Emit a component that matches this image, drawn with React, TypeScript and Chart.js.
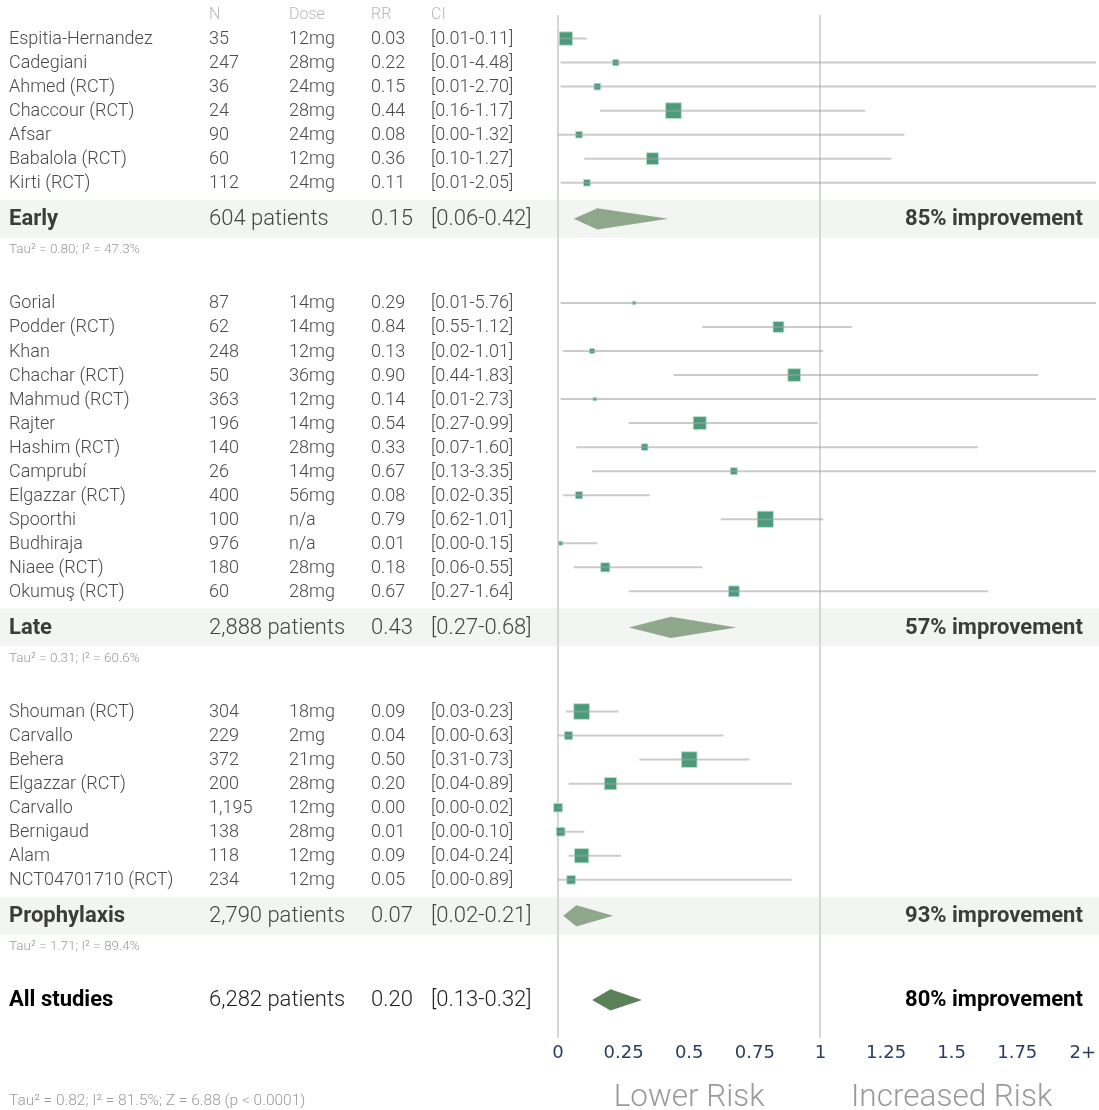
import React, { useEffect, useRef } from 'react';
import { Chart, registerables } from 'chart.js';

Chart.register(...registerables);

// ---------- data ----------
const earlyNames = ['Espitia-Hernandez', 'Cadegiani', 'Ahmed (RCT)', 'Chaccour (RCT)', 'Afsar', 'Babalola (RCT)', 'Kirti (RCT)'];
const earlyN = [35, 247, 36, 24, 90, 60, 112];
const earlyDose = ['12mg', '28mg', '24mg', '28mg', '24mg', '12mg', '24mg'];
const earlyRR = [0.03, 0.22, 0.15, 0.44, 0.08, 0.36, 0.11];
const earlyLo = [0.01, 0.01, 0.01, 0.16, 0.0, 0.1, 0.01];
const earlyHi = [0.11, 4.48, 2.7, 1.17, 1.32, 1.27, 2.05];
const earlyWeight = [17.5, 3.9, 4.4, 24.4, 4.4, 14, 4.4];

const lateNames = ['Gorial', 'Podder (RCT)', 'Khan', 'Chachar (RCT)', 'Mahmud (RCT)', 'Rajter', 'Hashim (RCT)', 'Camprubí', 'Elgazzar (RCT)', 'Spoorthi', 'Budhiraja', 'Niaee (RCT)', 'Okumuş (RCT)'];
const lateN = [87, 62, 248, 50, 363, 196, 140, 26, 400, 100, 976, 180, 60];
const lateDose = ['14mg', '14mg', '12mg', '36mg', '12mg', '14mg', '28mg', '14mg', '56mg', 'n/a', 'n/a', '28mg', '28mg'];
const lateRR = [0.29, 0.84, 0.13, 0.9, 0.14, 0.54, 0.33, 0.67, 0.08, 0.79, 0.01, 0.18, 0.67];
const lateLo = [0.01, 0.55, 0.02, 0.44, 0.01, 0.27, 0.07, 0.13, 0.02, 0.62, 0.0, 0.06, 0.27];
const lateHi = [5.76, 1.12, 1.01, 1.83, 2.73, 0.99, 1.6, 3.35, 0.35, 1.01, 0.15, 0.55, 1.64];
const lateWeight = [1.2, 11.6, 2.7, 15.8, 1.2, 16.5, 4.4, 4.8, 5.3, 25.6, 1.7, 8.3, 11.6];

const prophNames = ['Shouman (RCT)', 'Carvallo', 'Behera', 'Elgazzar (RCT)', 'Carvallo', 'Bernigaud', 'Alam', 'NCT04701710 (RCT)'];
const prophN = [304, 229, 372, 200, 1195, 138, 118, 234];
const prophDose = ['18mg', '2mg', '21mg', '28mg', '12mg', '28mg', '12mg', '12mg'];
const prophRR = [0.09, 0.04, 0.5, 0.2, 0.0, 0.01, 0.09, 0.05];
const prophLo = [0.03, 0.0, 0.31, 0.04, 0.0, 0.0, 0.04, 0.0];
const prophHi = [0.23, 0.63, 0.73, 0.89, 0.02, 0.1, 0.24, 0.89];
const prophWeight = [24, 6.7, 24, 14.8, 7.4, 7.4, 20, 7.4];

const summaryLabels = ['Early', 'Late', 'Prophylaxis', 'All studies'];
const summaryPatients = [604, 2888, 2790, 6282];
const summaryRR = [0.15, 0.43, 0.07, 0.2];
const summaryLo = [0.06, 0.27, 0.02, 0.13];
const summaryHi = [0.42, 0.68, 0.21, 0.32];
const summaryTau = ['Tau² = 0.80; I² = 47.3%', 'Tau² = 0.31; I² = 60.6%', 'Tau² = 1.71; I² = 89.4%'];
const overallStats = 'Tau² = 0.82; I² = 81.5%; Z = 6.88 (p < 0.0001)';

const headerLabels = ['N', 'Dose', 'RR', 'CI'];
const xTicks = [0, 0.25, 0.5, 0.75, 1, 1.25, 1.5, 1.75, 2];
const tickLabels = ['0', '0.25', '0.5', '0.75', '1', '1.25', '1.5', '1.75', '2+'];
const riskLabels = ['Lower Risk', 'Increased Risk'];

// ---------- build rows ----------
type Study = { name: string; n: number; dose: string; rr: number; lo: number; hi: number; w: number; row: number };
type Summary = { label: string; patients: number; rr: number; lo: number; hi: number; row: number; tau?: string; tauRow?: number; overall?: boolean };

const groupsSrc = [
  { names: earlyNames, n: earlyN, dose: earlyDose, rr: earlyRR, lo: earlyLo, hi: earlyHi, w: earlyWeight },
  { names: lateNames, n: lateN, dose: lateDose, rr: lateRR, lo: lateLo, hi: lateHi, w: lateWeight },
  { names: prophNames, n: prophN, dose: prophDose, rr: prophRR, lo: prophLo, hi: prophHi, w: prophWeight },
];

const studies: Study[] = [];
const summaries: Summary[] = [];
let cursor = 0;
groupsSrc.forEach((g, gi) => {
  g.names.forEach((name, i) => {
    studies.push({ name, n: g.n[i], dose: g.dose[i], rr: g.rr[i], lo: g.lo[i], hi: g.hi[i], w: g.w[i], row: cursor + i });
  });
  const sRow = cursor + g.names.length - 1 + 1.5;
  summaries.push({
    label: summaryLabels[gi], patients: summaryPatients[gi], rr: summaryRR[gi], lo: summaryLo[gi], hi: summaryHi[gi],
    row: sRow, tau: summaryTau[gi], tauRow: sRow + 1.3,
  });
  cursor = sRow + 3.5;
});
summaries.push({ label: summaryLabels[3], patients: summaryPatients[3], rr: summaryRR[3], lo: summaryLo[3], hi: summaryHi[3], row: cursor, overall: true });

const fmt = (v: number) => v.toFixed(2);
const fmtN = (v: number) => v.toLocaleString('en-US');

const COLX = { name: 9, n: 209, dose: 289, rr: 371, ci: 431 };

const forestPlugin = {
  id: 'forestText',
  beforeDraw(chart: any) {
    const ctx = chart.ctx;
    const y = chart.scales.y;
    ctx.save();
    ctx.fillStyle = '#f3f5f2';
    summaries.forEach((s) => {
      if (s.overall) return;
      const top = y.getPixelForValue(s.row - 0.79);
      const bot = y.getPixelForValue(s.row + 0.79);
      ctx.fillRect(0, top, chart.width, bot - top);
    });
    ctx.restore();
  },
  afterDraw(chart: any) {
    const ctx = chart.ctx;
    const y = chart.scales.y;
    const x = chart.scales.x;
    ctx.save();
    ctx.textBaseline = 'middle';
    ctx.textAlign = 'left';
    // header
    ctx.font = '300 16px Roboto';
    ctx.fillStyle = '#b8b8b8';
    const hy = y.getPixelForValue(-1);
    ctx.fillText(headerLabels[0], COLX.n, hy);
    ctx.fillText(headerLabels[1], COLX.dose, hy);
    ctx.fillText(headerLabels[2], COLX.rr, hy);
    ctx.fillText(headerLabels[3], COLX.ci, hy);
    // studies
    ctx.font = '300 18px Roboto';
    ctx.fillStyle = '#4a4a4a';
    studies.forEach((s) => {
      const py = y.getPixelForValue(s.row) + 1;
      ctx.fillText(s.name, COLX.name, py);
      ctx.fillText(fmtN(s.n), COLX.n, py);
      ctx.fillText(s.dose, COLX.dose, py);
      ctx.fillText(fmt(s.rr), COLX.rr, py);
      ctx.fillText(`[${fmt(s.lo)}-${fmt(s.hi)}]`, COLX.ci, py);
    });
    // summaries
    summaries.forEach((s) => {
      const py = y.getPixelForValue(s.row) + 1;
      const col = s.overall ? '#000000' : '#3c3c3c';
      ctx.textAlign = 'left';
      ctx.font = 'bold 22px Roboto';
      ctx.fillStyle = col;
      ctx.fillText(s.label, COLX.name, py);
      ctx.font = '300 22px Roboto';
      ctx.fillStyle = s.overall ? '#222' : '#444';
      ctx.fillText(`${fmtN(s.patients)} patients`, COLX.n, py);
      ctx.fillText(fmt(s.rr), COLX.rr, py);
      ctx.fillText(`[${fmt(s.lo)}-${fmt(s.hi)}]`, COLX.ci, py);
      ctx.textAlign = 'right';
      ctx.font = 'bold 22px Roboto';
      ctx.fillStyle = col;
      ctx.fillText(`${Math.round((1 - s.rr) * 100)}% improvement`, x.getPixelForValue(2), py);
      if (s.tau) {
        ctx.textAlign = 'left';
        ctx.font = '300 13.5px Roboto';
        ctx.fillStyle = '#9a9a9a';
        ctx.fillText(s.tau, COLX.name, y.getPixelForValue(s.tauRow));
      }
    });
    // risk labels
    ctx.textAlign = 'center';
    ctx.font = '300 31.5px Roboto';
    ctx.fillStyle = '#9a9a9a';
    ctx.fillText(riskLabels[0], x.getPixelForValue(0.5), y.getPixelForValue(44.1));
    ctx.fillText(riskLabels[1], x.getPixelForValue(1.5), y.getPixelForValue(44.1));
    // overall stats
    ctx.textAlign = 'left';
    ctx.font = '300 15.5px Roboto';
    ctx.fillStyle = '#9a9a9a';
    ctx.fillText(overallStats, COLX.name, y.getPixelForValue(44.2));
    ctx.restore();
  },
};

export default function App() {
  const ref = useRef<HTMLCanvasElement | null>(null);
  useEffect(() => {
    if (!ref.current) return;
    const ciData: any[] = [];
    studies.forEach((s) => {
      ciData.push({ x: s.lo, y: s.row }, { x: s.hi, y: s.row }, { x: null, y: null });
    });
    const pointData = studies.map((s) => ({ x: s.rr, y: s.row }));
    const radii = studies.map((s) => (3.2 * Math.sqrt(s.w)) / (2 * Math.SQRT1_2));
    const diamondSets = summaries.map((s) => ({
      type: 'line',
      data: [
        { x: s.lo, y: s.row },
        { x: s.rr, y: s.row - 0.44 },
        { x: s.hi, y: s.row },
        { x: s.rr, y: s.row + 0.44 },
        { x: s.lo, y: s.row },
      ],
      borderWidth: 0,
      borderColor: 'rgba(0,0,0,0)',
      backgroundColor: s.overall ? '#5b8159' : '#8fa88c',
      fill: 'shape',
      pointRadius: 0,
      tension: 0,
      clip: false,
    }));
    const chart = new Chart(ref.current, {
      type: 'scatter',
      data: {
        datasets: [
          {
            type: 'line',
            data: ciData,
            borderColor: 'rgba(160,160,160,0.55)',
            borderWidth: 2,
            pointRadius: 0,
            showLine: true,
            spanGaps: false,
          } as any,
          {
            type: 'scatter',
            data: pointData,
            pointStyle: 'rect',
            pointRadius: radii,
            backgroundColor: 'rgba(60,146,111,0.92)',
            borderColor: 'rgba(190,225,210,0.9)',
            borderWidth: 1,
            clip: false,
          } as any,
          ...(diamondSets as any[]),
        ],
      },
      options: {
        animation: false,
        responsive: false,
        events: [],
        layout: { autoPadding: false, padding: { left: 558, right: 3, top: 15, bottom: 42 } },
        plugins: { legend: { display: false }, tooltip: { enabled: false } },
        scales: {
          x: {
            type: 'linear',
            min: 0,
            max: 2.05,
            afterBuildTicks: (axis: any) => {
              axis.ticks = xTicks.map((v) => ({ value: v }));
            },
            afterFit: (axis: any) => {
              axis.paddingLeft = 0;
              axis.paddingRight = 0;
            },
            ticks: {
              padding: 4,
              maxRotation: 0,
              autoSkip: false,
              color: '#2a3f5f',
              font: { family: 'DejaVu Sans', size: 18 },
              callback: (v: any) => tickLabels[xTicks.indexOf(Number(v))] ?? String(v),
            },
            grid: {
              drawTicks: false,
              lineWidth: 2,
              color: (c: any) => (c.tick && (c.tick.value === 0 || c.tick.value === 1) ? '#d6d6d6' : 'rgba(0,0,0,0)'),
            },
            border: { display: false },
          },
          y: { type: 'linear', reverse: true, min: -0.98, max: 41.6, display: false },
        },
      } as any,
      plugins: [forestPlugin],
    });
    return () => chart.destroy();
  }, []);
  return (
    <div style={{ position: 'absolute', left: 0, top: 0, width: 1099, height: 1110, background: '#fff' }}>
      <canvas ref={ref} width={1099} height={1110} style={{ display: 'block', width: 1099, height: 1110 }} />
    </div>
  );
}
